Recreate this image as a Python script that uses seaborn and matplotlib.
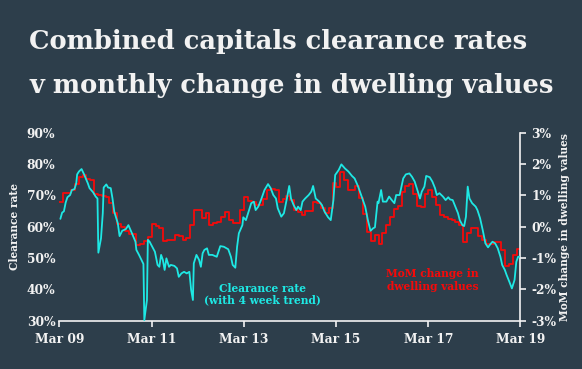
import numpy as np
import pandas as pd
import seaborn as sns
import matplotlib.pyplot as plt
import matplotlib.dates as mdates

# weekly clearance rate (4 week trend), weeks since Mar 2009
cr_weeks = [1, 3, 5, 7, 9, 12, 14, 17, 19, 20, 22, 25, 28, 32, 34, 38, 41, 43, 44, 47,
            49, 50, 53, 55, 58, 60, 62, 66, 68, 71, 75, 78, 82, 86, 87, 90, 95, 96, 99, 100,
            102, 105, 108, 111, 113, 115, 117, 119, 121, 124, 126, 130, 133, 135, 138, 141, 144, 147, 149, 151,
            152, 155, 158, 160, 162, 164, 167, 169, 173, 178, 182, 186, 191, 194, 196, 199, 201, 203, 207, 208,
            211, 214, 217, 220, 222, 225, 228, 232, 236, 239, 242, 245, 247, 251, 254, 257, 260, 262, 265, 268,
            270, 273, 275, 278, 282, 285, 287, 290, 294, 297, 300, 304, 307, 310, 312, 316, 319, 323, 327, 331,
            334, 338, 342, 346, 349, 352, 355, 357, 360, 361, 364, 366, 370, 373, 376, 379, 381, 385, 387, 389,
            392, 396, 399, 402, 405, 408, 410, 413, 415, 419, 422, 425, 427, 430, 434, 437, 440, 442, 445, 448,
            451, 453, 456, 458, 460, 462, 464, 467, 471, 473, 476, 479, 482, 485, 487, 490, 493, 496, 499, 501,
            504, 506, 509, 512, 515, 517, 519, 521]
cr_rate = [62.5, 64.5, 64.9, 67.7, 69.4, 70.1, 71.7, 72.0, 73.9, 76.7, 77.6, 78.4, 76.6, 73.9, 72.3, 71.0, 69.6, 69.0, 51.7, 56.3,
           64.3, 72.5, 73.5, 72.5, 72.3, 69.0, 64.8, 61.1, 57.0, 58.7, 59.2, 60.5, 57.9, 55.2, 52.6, 51.0, 48.1, 30.2, 36.6, 55.8,
           55.2, 53.6, 52.0, 47.8, 47.2, 51.0, 49.4, 46.2, 49.9, 47.2, 47.8, 47.5, 46.7, 44.0, 45.1, 45.6, 45.1, 45.6, 39.8, 36.6,
           48.3, 51.0, 49.4, 47.2, 51.5, 52.6, 53.1, 51.0, 51.0, 50.4, 53.8, 53.6, 52.8, 50.4, 47.8, 46.9, 53.6, 57.9, 60.5, 63.0,
           62.1, 64.8, 67.5, 68.0, 65.3, 66.4, 68.5, 71.7, 73.6, 72.3, 70.1, 69.0, 65.9, 63.2, 64.3, 68.5, 73.0, 69.0, 66.9, 65.3,
           66.4, 65.3, 68.0, 69.0, 70.1, 71.2, 73.0, 69.0, 68.0, 66.9, 64.8, 63.0, 62.1, 68.5, 76.5, 78.1, 79.9, 78.6, 77.6, 76.2,
           75.4, 72.8, 69.6, 66.4, 62.1, 58.7, 59.5, 59.8, 68.0, 67.5, 71.7, 68.0, 68.0, 69.6, 68.5, 67.5, 70.1, 70.1, 72.8, 75.4,
           76.7, 77.0, 75.9, 74.4, 71.7, 69.0, 71.2, 72.8, 76.2, 75.8, 74.4, 72.3, 70.1, 70.7, 69.6, 68.5, 69.4, 68.7, 68.5, 66.4,
           64.3, 62.1, 60.5, 60.2, 63.2, 72.8, 69.0, 67.5, 66.4, 65.3, 62.7, 58.9, 54.7, 53.4, 54.2, 55.2, 54.7, 53.1, 50.4, 47.8,
           46.2, 44.6, 42.5, 40.3, 43.0, 48.8, 50.4, 50.4]

# monthly change in dwelling values (%), Mar 2009 .. Mar 2019
mom = [0.80, 1.09, 1.09, 1.17, 1.35, 1.60, 1.65, 1.52, 1.50, 1.05, 1.00, 0.98,
       0.96, 0.75, 0.45, 0.08, -0.02, -0.15, -0.24, -0.22, -0.58, -0.55, -0.45, -0.32,
       0.08, 0.02, -0.03, -0.45, -0.42, -0.42, -0.26, -0.30, -0.42, -0.37, 0.05, 0.53,
       0.53, 0.27, 0.43, 0.05, 0.11, 0.16, 0.30, 0.48, 0.21, 0.12, 0.11, 0.53,
       0.94, 0.82, 0.80, 0.69, 0.69, 0.87, 1.17, 1.19, 1.17, 0.80, 0.87, 0.98,
       0.85, 0.53, 0.48, 0.37, 0.51, 0.51, 0.80, 0.75, 0.59, 0.43, 0.60, 1.39,
       1.28, 1.76, 1.49, 1.17, 1.17, 1.30, 0.90, 0.40, -0.16, -0.45, -0.25, -0.55,
       -0.20, 0.05, 0.30, 0.55, 0.66, 1.12, 1.30, 1.35, 1.05, 0.66, 0.64, 1.05,
       1.17, 0.94, 0.69, 0.37, 0.30, 0.24, 0.20, 0.15, 0.05, -0.48, -0.20, -0.05,
       -0.05, -0.30, -0.42, -0.55, -0.55, -0.48, -0.48, -0.75, -1.25, -1.18, -0.90, -0.70,
       -0.70]

start = pd.Timestamp('2009-03-01')
cr_df = pd.DataFrame({'date': start + pd.to_timedelta(np.array(cr_weeks) * 7, unit='D'),
                      'rate': cr_rate})
mom_df = pd.DataFrame({'date': pd.date_range(start, periods=len(mom), freq='MS'),
                       'mom': mom})

bg = '#2d3e4b'
white = '#f2f2f2'
cyan = '#1ee8e4'
red = '#f50a0a'

sns.set_theme(style='white')
plt.rcParams['font.family'] = ['DejaVu Serif']
plt.rcParams['font.weight'] = 'bold'

fig = plt.figure(figsize=(5.82, 3.69), dpi=100, facecolor=bg)
ax = fig.add_axes([0.1022, 0.1309, 0.7921, 0.5095])
ax.set_facecolor(bg)

sns.lineplot(data=cr_df, x='date', y='rate', ax=ax, color=cyan, linewidth=1.3, zorder=3)
ax2 = ax.twinx()
sns.lineplot(data=mom_df, x='date', y='mom', ax=ax2, color=red, linewidth=1.3,
             drawstyle='steps-post', zorder=2)
ax.set_zorder(ax2.get_zorder() + 1)
ax.patch.set_visible(False)
ax2.patch.set_visible(False)

ax.set_xlim(pd.Timestamp('2009-03-01'), pd.Timestamp('2019-03-01'))
ax.set_ylim(30, 90)
ax2.set_ylim(-3, 3)

ax.set_yticks(range(30, 91, 10))
ax.set_yticklabels([f'{v}%' for v in range(30, 91, 10)])
ax2.set_yticks(range(-3, 4))
ax2.set_yticklabels([f'{v}%' for v in range(-3, 4)])
ax.set_xticks([pd.Timestamp(f'{y}-03-01') for y in range(2009, 2020, 2)])
ax.xaxis.set_major_formatter(mdates.DateFormatter('%b %y'))

for s in ['left', 'top', 'right']:
    ax.spines[s].set_visible(False)
for s in ['left', 'top', 'bottom']:
    ax2.spines[s].set_visible(False)
ax.spines['bottom'].set_color(white)
ax.spines['bottom'].set_linewidth(1.2)
ax2.spines['right'].set_color(white)
ax2.spines['right'].set_linewidth(1.2)

ax.tick_params(axis='y', length=0, pad=3, labelcolor=white, labelsize=8.8)
ax.tick_params(axis='x', length=4, width=1.2, color=white, pad=5, labelcolor=white, labelsize=8.8, bottom=True)
ax2.tick_params(axis='y', length=4, width=1.2, color=white, pad=4, labelcolor=white, labelsize=8.8, right=True)

ax.set_xlabel('')
ax.set_ylabel('Clearance rate', color=white, fontsize=7.7, fontweight='bold', labelpad=5)
ax2.set_ylabel('MoM change in dwelling values', color=white, fontsize=7.7, fontweight='bold', labelpad=2)
ax.grid(False)
ax2.grid(False)

for txt, yb in [('Clearance rate', 0.154), ('(with 4 week trend)', 0.093)]:
    ax.text(0.441, yb, txt, transform=ax.transAxes, color=cyan, fontsize=7.7,
            fontweight='bold', ha='center', va='baseline')
for txt, yb in [('MoM change in', 0.231), ('dwelling values', 0.163)]:
    ax.text(0.809, yb, txt, transform=ax.transAxes, color=red, fontsize=7.7,
            fontweight='bold', ha='center', va='baseline')

fig.text(0.0505, 0.866, 'Combined capitals clearance rates', color=white,
         fontsize=18.5, fontweight='bold', va='baseline', ha='left')
fig.text(0.0505, 0.749, 'v monthly change in dwelling values', color=white,
         fontsize=18.5, fontweight='bold', va='baseline', ha='left')

fig.savefig('out.png', dpi=100, facecolor=bg)
